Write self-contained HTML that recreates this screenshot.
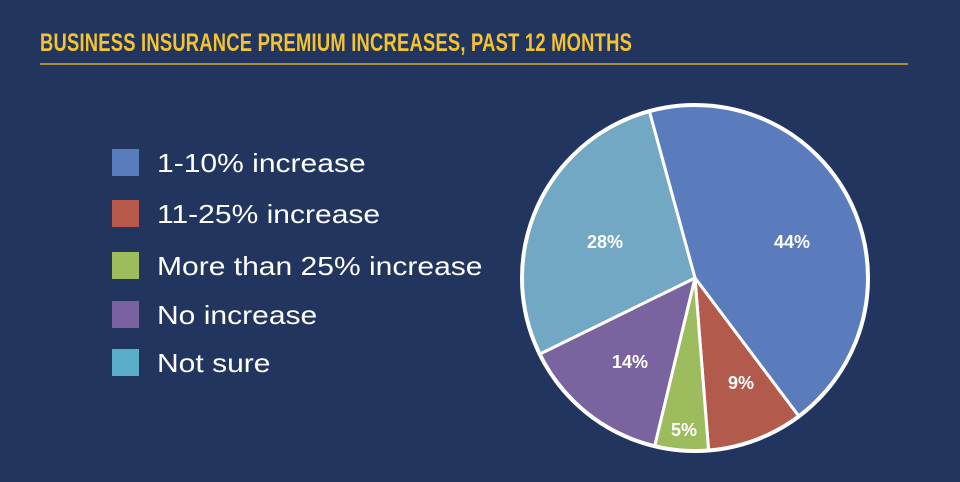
<!DOCTYPE html>
<html><head><meta charset="utf-8"><style>
html,body{margin:0;padding:0;background:#22355f;}
body{width:960px;height:482px;position:relative;overflow:hidden;font-family:"Liberation Sans",sans-serif;}
.title{position:absolute;left:40px;top:29px;color:#f3c332;font-weight:bold;font-size:25px;letter-spacing:0.3px;transform:scaleX(0.735);transform-origin:left top;white-space:nowrap;font-family:"Liberation Sans Narrow","Liberation Sans",sans-serif;}
.rule{position:absolute;left:40px;top:63px;width:868px;height:2px;background:#a88f36;}
.sq{position:absolute;left:112px;width:27px;height:27px;}
.lt{position:absolute;left:157px;color:#fff;font-size:26px;line-height:27px;white-space:nowrap;transform:scaleX(1.155);transform-origin:left top;}
</style></head><body>
<div class="title">BUSINESS INSURANCE PREMIUM INCREASES, PAST 12 MONTHS</div>
<div class="rule"></div>
<div class="sq" style="top:149px;background:#5a7cbd"></div><div class="lt" style="top:150px">1-10% increase</div>
<div class="sq" style="top:200px;background:#b75a4c"></div><div class="lt" style="top:201px">11-25% increase</div>
<div class="sq" style="top:252px;background:#9dbc5d"></div><div class="lt" style="top:253px">More than 25% increase</div>
<div class="sq" style="top:301px;background:#7a62a0"></div><div class="lt" style="top:302px">No increase</div>
<div class="sq" style="top:349px;background:#5aaec8"></div><div class="lt" style="top:350px">Not sure</div>
<svg width="960" height="482" style="position:absolute;left:0;top:0">
<g stroke="#fff" stroke-width="3" stroke-linejoin="round">
<path d="M695 278 L649.3 111.1 A173 173 0 0 1 798.9 416.3 Z" fill="#5a7cbd"/>
<path d="M695 278 L798.9 416.3 A173 173 0 0 1 708.6 450.5 Z" fill="#b25b4c"/>
<path d="M695 278 L708.6 450.5 A173 173 0 0 1 654.6 446.2 Z" fill="#9dbc5d"/>
<path d="M695 278 L654.6 446.2 A173 173 0 0 1 539.6 354.1 Z" fill="#7a64a0"/>
<path d="M695 278 L539.6 354.1 A173 173 0 0 1 649.3 111.1 Z" fill="#72a8c3"/>
</g>
<circle cx="695" cy="278" r="173" fill="none" stroke="#fff" stroke-width="4"/>
<g fill="#fff" font-family="Liberation Sans,sans-serif" font-weight="bold" font-size="18" text-anchor="middle">
<text x="792" y="248">44%</text>
<text x="741" y="389">9%</text>
<text x="684" y="436">5%</text>
<text x="630" y="368">14%</text>
<text x="605" y="248">28%</text>
</g>
</svg>
</body></html>
